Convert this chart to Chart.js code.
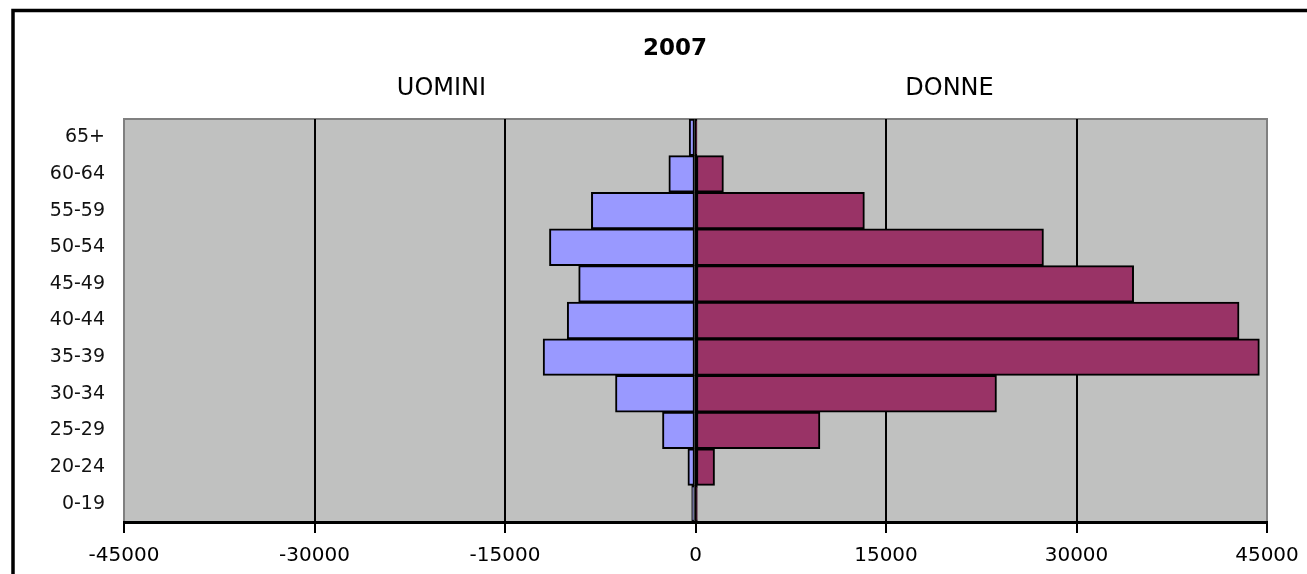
<!DOCTYPE html>
<html>
<head>
<meta charset="utf-8">
<script src="https://cdn.jsdelivr.net/npm/chart.js@4/dist/chart.umd.min.js"></script>
<style>
    body { margin: 0; background: #fff; overflow: hidden; }
    #wrap { width: 1307px; height: 574px; }
</style>
</head>
<body>
<div id="wrap"><canvas id="pyramid"></canvas></div>
<script>
const ageGroups = ['65+', '60-64', '55-59', '50-54', '45-49', '40-44', '35-39', '30-34', '25-29', '20-24', '0-19'];
const uomini = [-500, -2100, -8200, -11500, -9200, -10100, -12000, -6300, -2600, -600, -300];
const donne = [120, 2200, 13300, 27400, 34500, 42800, 44400, 23700, 9800, 1500, 150];
const xTicks = [-45000, -30000, -15000, 0, 15000, 30000, 45000];

const chartTitle = '2007';
const leftLabel = 'UOMINI';
const rightLabel = 'DONNE';

// frame, grey plot background and the header texts
const decorations = {
    id: 'decorations',
    beforeDraw(chart) {
        const ctx = chart.ctx;
        const area = chart.chartArea;
        ctx.save();
        ctx.fillStyle = '#fff';
        ctx.fillRect(0, 0, chart.width, chart.height);
        ctx.strokeStyle = '#000';
        ctx.lineWidth = 3.5;
        ctx.strokeRect(13, 10.5, 3000, 3000);
        ctx.fillStyle = '#c0c1c0';
        ctx.fillRect(area.left, area.top, area.right - area.left, area.bottom - area.top);
        ctx.strokeStyle = '#808080';
        ctx.lineWidth = 2;
        ctx.strokeRect(area.left, area.top, area.right - area.left, area.bottom - area.top);
        ctx.restore();
    },
    afterDraw(chart) {
        const ctx = chart.ctx;
        const x = chart.scales.x;
        ctx.save();
        ctx.fillStyle = '#000';
        ctx.textAlign = 'center';
        ctx.textBaseline = 'middle';
        ctx.font = 'bold 23px "DejaVu Sans"';
        ctx.fillText(chartTitle, 675, 49);
        ctx.font = '24px "DejaVu Sans"';
        ctx.fillText(leftLabel, x.getPixelForValue(-20000), 89);
        ctx.fillText(rightLabel, x.getPixelForValue(20000), 89);
        ctx.restore();
    }
};

const element = document.getElementById('pyramid');
const pyramidChart = new Chart(element, {
    type: 'bar',
    data: {
        labels: ageGroups,
        datasets: [{
            label: leftLabel,
            data: uomini,
            backgroundColor: '#9999ff',
            borderColor: '#000',
            borderWidth: 2,
            borderSkipped: false,
            categoryPercentage: 1,
            barPercentage: 1
        }, {
            label: rightLabel,
            data: donne,
            backgroundColor: '#993366',
            borderColor: '#000',
            borderWidth: 2,
            borderSkipped: false,
            categoryPercentage: 1,
            barPercentage: 1
        }]
    },
    options: {
        indexAxis: 'y',
        responsive: true,
        maintainAspectRatio: false,
        animation: false,
        layout: { padding: { left: 0, right: 40, top: 119, bottom: 0 } },
        plugins: {
            legend: { display: false },
            tooltip: { enabled: false },
            title: { display: false }
        },
        scales: {
            x: {
                stacked: true,
                min: -45000,
                max: 45000,
                afterBuildTicks: function (scale) {
                    scale.ticks = xTicks.map(v => ({ value: v }));
                },
                afterFit: function (scale) {
                    scale.height = 52;
                    scale.paddingRight = 0;
                    scale.paddingLeft = 0;
                },
                ticks: {
                    color: '#000',
                    padding: 11,
                    maxRotation: 0,
                    autoSkip: false,
                    font: { family: 'DejaVu Sans', size: 20 },
                    callback: function (value) { return String(value); }
                },
                grid: {
                    color: function (c) {
                        return (c.tick && Math.abs(c.tick.value) === 45000) ? 'rgba(0,0,0,0)' : '#000';
                    },
                    tickColor: '#000',
                    lineWidth: 2,
                    tickLength: 11,
                    drawOnChartArea: true
                },
                border: { display: true, color: '#000', width: 3 }
            },
            y: {
                stacked: true,
                afterFit: function (scale) {
                    scale.width = 124;
                },
                ticks: {
                    color: '#111',
                    padding: 19,
                    font: { family: 'DejaVu Sans', size: 19 }
                },
                grid: { display: false, drawTicks: false },
                border: { display: false }
            }
        }
    },
    plugins: [decorations]
});
</script>
</body>
</html>
